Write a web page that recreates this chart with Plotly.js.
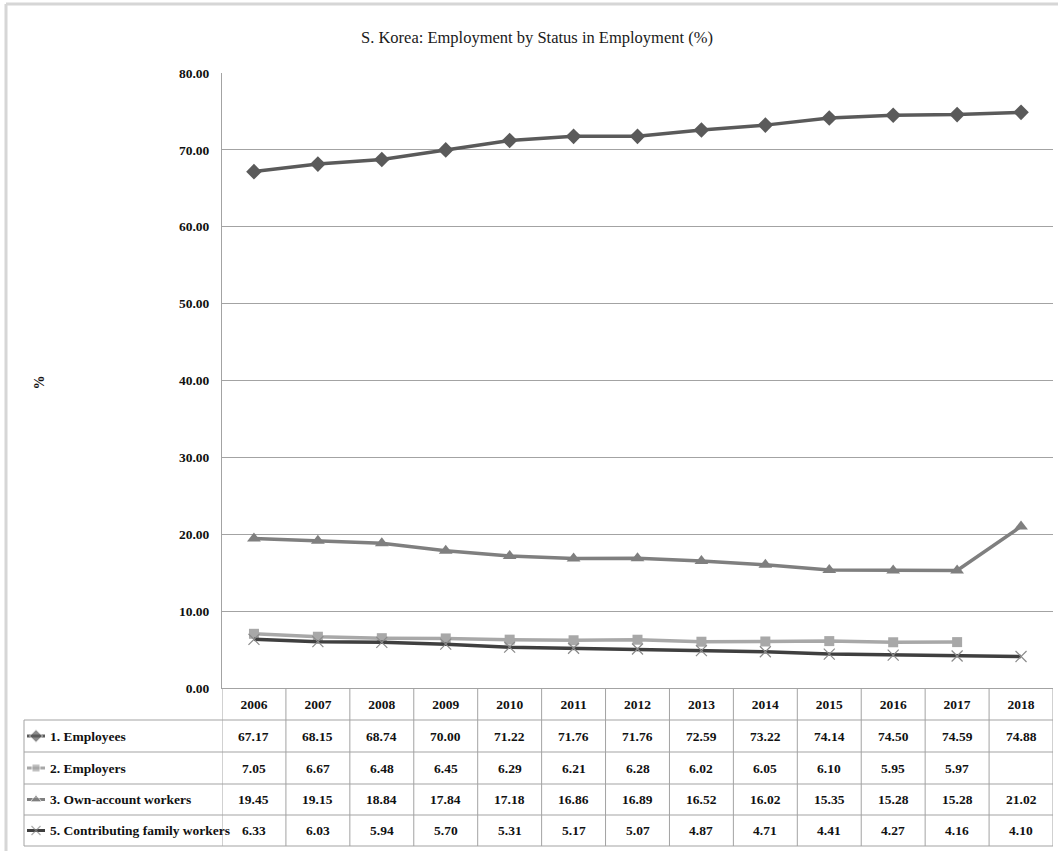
<!DOCTYPE html>
<html>
<head>
<meta charset="utf-8">
<script src="https://cdn.plot.ly/plotly-3.0.1.min.js"></script>
<style>html,body{margin:0;padding:0;background:#fff;}#chart{width:1058px;height:851px;}</style>
</head>
<body>
<div id="chart"></div>
<script>
// ---- data ----
const years = [2006, 2007, 2008, 2009, 2010, 2011, 2012, 2013, 2014, 2015, 2016, 2017, 2018];
const employees = [67.17, 68.15, 68.74, 70.00, 71.22, 71.76, 71.76, 72.59, 73.22, 74.14, 74.50, 74.59, 74.88];
const employers = [7.05, 6.67, 6.48, 6.45, 6.29, 6.21, 6.28, 6.02, 6.05, 6.10, 5.95, 5.97, null];
const ownAccount = [19.45, 19.15, 18.84, 17.84, 17.18, 16.86, 16.89, 16.52, 16.02, 15.35, 15.28, 15.28, 21.02];
const contributing = [6.33, 6.03, 5.94, 5.70, 5.31, 5.17, 5.07, 4.87, 4.71, 4.41, 4.27, 4.16, 4.10];
const seriesNames = ["1. Employees", "2. Employers", "3. Own-account workers", "5. Contributing family workers"];
const yTickValues = [0, 10, 20, 30, 40, 50, 60, 70, 80];
const chartTitle = "S. Korea: Employment by Status in Employment (%)";
const yTitle = "%";

// ---- geometry helpers (pixels -> paper) ----
const W = 1058, H = 851;
const PX = x => x / W;
const PY = y => 1 - y / H;
const plotL = 222, plotR = 1053, plotT = 73, plotB = 688;
const tableL = 24;
const rowLines = [720, 752, 784, 815, 846];
const rowCenters = [736, 768, 799.5, 830.5];
const FONT = "Liberation Serif, Times New Roman, serif";
const gridCol = "#a3a3a3";

const allSeries = [employees, employers, ownAccount, contributing];
const styles = [
  {line: "#5a5a5a", marker: {symbol: "diamond", size: 12, color: "#5a5a5a"}},
  {line: "#a8a8a8", marker: {symbol: "square", size: 10, color: "#a8a8a8"}},
  {line: "#7f7f7f", marker: {symbol: "triangle-up", size: 12, color: "#7f7f7f"}},
  {line: "#3f3f3f", marker: {symbol: "x-thin", size: 11, color: "#8a8a8a", line: {width: 1.2, color: "#8a8a8a"}}}
];

const traces = [];
allSeries.forEach((vals, i) => {
  traces.push({
    type: "scatter", mode: "lines+markers", name: seriesNames[i],
    x: years, y: vals, xaxis: "x", yaxis: "y",
    line: {color: styles[i].line, width: 3.5},
    marker: styles[i].marker, cliponaxis: false, hoverinfo: "x+y+name"
  });
});
// legend keys in the table's label column
allSeries.forEach((vals, i) => {
  const m = Object.assign({}, styles[i].marker);
  m.size = [0, styles[i].marker.size - 2, 0];
  traces.push({
    type: "scatter", mode: "lines+markers", showlegend: false, hoverinfo: "skip",
    x: [27, 36, 45], y: [rowCenters[i], rowCenters[i], rowCenters[i]],
    xaxis: "x2", yaxis: "y2",
    line: {color: styles[i].line, width: 3}, marker: m
  });
});

const shapes = [];
const ln = (x0, y0, x1, y1, xref, color, width) => shapes.push({
  type: "line", xref: xref || "paper", yref: "paper",
  x0: x0, x1: x1, y0: y0, y1: y1,
  line: {color: color || gridCol, width: width || 1}
});
// outer chart border
ln(PX(6), PY(4), PX(6), PY(860), "paper", "#d6d6d6", 3);
ln(PX(6), PY(4), PX(1070), PY(4), "paper", "#d6d6d6", 3);
// table vertical lines at category boundaries
for (let k = 0; k <= years.length; k++) {
  const xv = years[0] - 0.5 + k;
  ln(xv, PY(plotB), xv, PY(rowLines[rowLines.length - 1]), "x");
}
// table horizontal lines
rowLines.forEach(y => ln(PX(tableL), PY(y), PX(plotR), PY(y)));
// label column left border
ln(PX(tableL), PY(rowLines[0]), PX(tableL), PY(rowLines[rowLines.length - 1]));

const annotations = [];
// y-axis title
annotations.push({xref: "paper", yref: "paper", x: PX(29), y: PY(383), text: "<b>" + yTitle + "</b>",
  textangle: -90, showarrow: false, font: {family: FONT, size: 14, color: "#111"}});
// row labels
seriesNames.forEach((n, i) => annotations.push({
  xref: "paper", yref: "paper", x: PX(48), y: PY(rowCenters[i]), xanchor: "left", yanchor: "middle",
  text: "<b>" + n + "</b>", showarrow: false, font: {family: FONT, size: 13.5, color: "#111"}
}));
// cell values
allSeries.forEach((vals, i) => vals.forEach((v, j) => {
  if (v === null) return;
  annotations.push({xref: "x", yref: "paper", x: years[j], y: PY(rowCenters[i]), yanchor: "middle",
    text: "<b>" + v.toFixed(2) + "</b>", showarrow: false, font: {family: FONT, size: 13.5, color: "#111"}});
}));

const layout = {
  width: W, height: H,
  margin: {l: 0, r: 0, t: 0, b: 0},
  paper_bgcolor: "#fff", plot_bgcolor: "#fff",
  showlegend: false,
  title: {text: chartTitle, x: PX(537), xanchor: "center", y: PY(37), yanchor: "middle",
    font: {family: FONT, size: 16.5, color: "#1a1a1a"}},
  xaxis: {
    domain: [PX(plotL), PX(plotR)], range: [years[0] - 0.5, years[years.length - 1] + 0.5],
    tickvals: years, ticktext: years.map(y => "<b>" + y + "</b>"),
    ticks: "", showgrid: false, zeroline: false, showline: true, linecolor: gridCol, linewidth: 1,
    tickfont: {family: FONT, size: 13.5, color: "#111"}, ticklabelstandoff: 4, fixedrange: true
  },
  yaxis: {
    domain: [PY(plotB), PY(plotT)], range: [0, 80],
    tickvals: yTickValues, ticktext: yTickValues.map(v => "<b>" + v.toFixed(2) + "</b>"),
    ticks: "", showgrid: true, gridcolor: gridCol, gridwidth: 1, zeroline: false,
    showline: true, linecolor: gridCol, linewidth: 1,
    tickfont: {family: FONT, size: 13.5, color: "#111"}, ticklabelstandoff: 9, fixedrange: true
  },
  xaxis2: {domain: [PX(tableL), PX(plotL)], range: [tableL, plotL], anchor: "y2", visible: false, fixedrange: true},
  yaxis2: {domain: [PY(rowLines[rowLines.length - 1]), PY(rowLines[0])],
    range: [rowLines[rowLines.length - 1], rowLines[0]], anchor: "x2", visible: false, fixedrange: true},
  shapes: shapes,
  annotations: annotations
};

Plotly.newPlot("chart", traces, layout, {displayModeBar: false, staticPlot: false});
</script>
</body>
</html>
